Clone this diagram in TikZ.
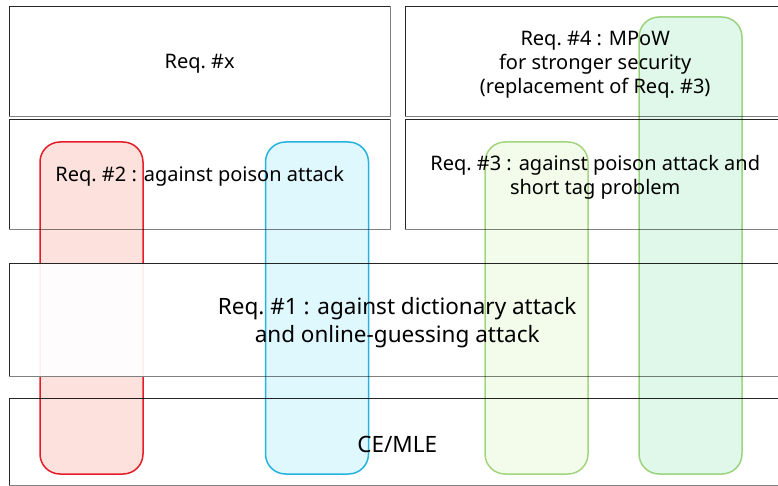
\documentclass[tikz,border=0pt]{standalone}
\usepackage{fontspec}
\setmainfont{Noto Sans}
\definecolor{redline}{HTML}{E5202C}
\definecolor{redfill}{HTML}{FDE1DD}
\definecolor{cyanline}{HTML}{2BB6DE}
\definecolor{cyanfill}{HTML}{DEF8FE}
\definecolor{greenline}{HTML}{A8D784}
\definecolor{greenfillA}{HTML}{F3FCEA}
\definecolor{greenfillB}{HTML}{DFF8EA}
\tikzset{
  reqbox/.style={draw=none, fill=white, inner sep=0pt, anchor=north west},
  edgedark/.style={draw=black!85, line width=0.8pt},
  edgelight/.style={draw=black!50, line width=1.1pt},
  lbl/.style={inner sep=0pt, align=center, font=\fontsize{20}{23.7}\selectfont},
  biglbl/.style={inner sep=0pt, align=center, font=\fontsize{22.5}{28}\selectfont},
  pill/.style={draw, line width=1.5pt, rounded corners=20pt, inner sep=0pt, minimum width=103pt},
}
\newcommand{\boxedges}[1]{%
  \draw[edgedark] (#1.south west) -- (#1.north west) -- (#1.north east);
  \draw[edgelight] (#1.north east) -- (#1.south east) -- (#1.south west);}
\begin{document}
\begin{tikzpicture}[x=1pt,y=-1pt]
\useasboundingbox (0,0) rectangle (778,486);
\clip (0,0) rectangle (778,486);
% boxes
\node[reqbox, minimum width=381pt, minimum height=110pt] (bx) at (9,6) {};
\node[reqbox, minimum width=381pt, minimum height=110pt] (b2) at (9,119) {};
\node[reqbox, minimum width=380pt, minimum height=110pt] (b4) at (405,6) {};
\node[reqbox, minimum width=380pt, minimum height=110pt] (b3) at (405,119) {};
\node[reqbox, minimum width=776pt, minimum height=87pt] (b0) at (9,398) {};
\boxedges{bx}\boxedges{b2}\boxedges{b4}\boxedges{b3}\boxedges{b0}
% red pill (covered by Req #1 box)
\begin{scope}[blend mode=multiply]
\node[pill, draw=redline, fill=redfill, minimum height=332pt] (pr) at (91.5,308) {};
\end{scope}
\node[reqbox, fill opacity=0.93, minimum width=776pt, minimum height=113pt] (b1) at (9,263) {};
\boxedges{b1}
% other pills
\begin{scope}[blend mode=multiply]
\node[pill, draw=cyanline, fill=cyanfill, minimum height=332pt] (pc) at (317,308) {};
\node[pill, draw=greenline, fill=greenfillA, minimum height=332pt] (pg1) at (536.5,308) {};
\node[pill, draw=greenline, fill=greenfillB, minimum height=457pt] (pg2) at (690.5,245.5) {};
\end{scope}
% texts
\node[lbl] (tx) at ([yshift=-3pt]bx.center) {Req.\ \#x};
\node[lbl] (t2) at ([yshift=-2pt]b2.center) {Req.\ \#2 : against poison attack};
\node[lbl] (t4) at ([yshift=-3.5pt]b4.center) {Req.\ \#4 : MPoW\\for stronger security\\(replacement of Req.\ \#3)};
\node[lbl] (t3) at ([yshift=-3pt]b3.center) {Req.\ \#3 : against poison attack and\\short tag problem};
\node[biglbl] (t1) at ([yshift=-3pt]b1.center) {Req.\ \#1 : against dictionary attack\\and online-guessing attack};
\node[biglbl] (t0) at ([yshift=-3pt]b0.center) {CE/MLE};
\end{tikzpicture}
\end{document}
